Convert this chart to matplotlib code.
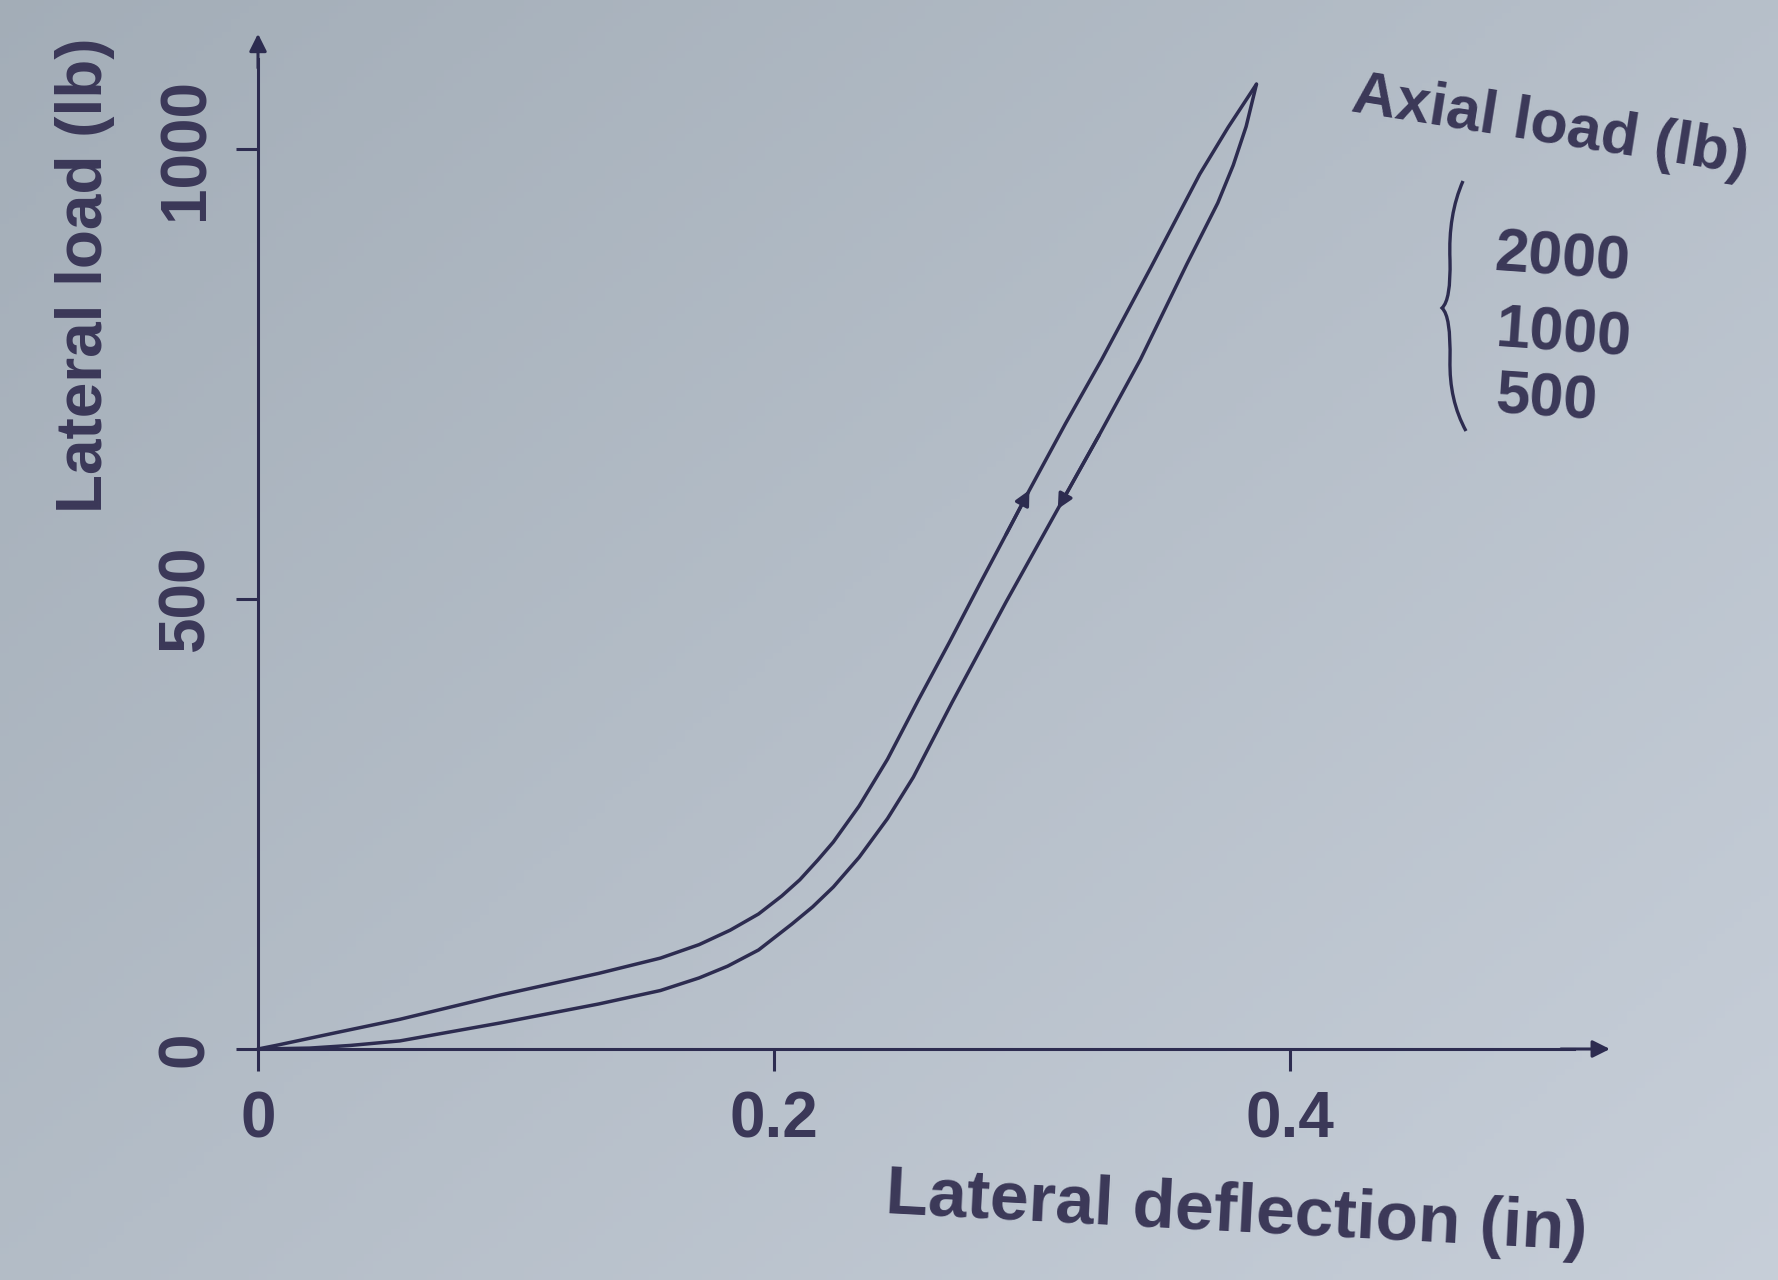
import numpy as np
import matplotlib.pyplot as plt
from matplotlib.path import Path
from matplotlib.patches import PathPatch

# Courbe de chargement (branche supérieure) : déflexion (in), charge latérale (lb)
load_x = [0.000, 0.007, 0.030, 0.055, 0.094, 0.132, 0.156, 0.171, 0.183, 0.194,
          0.203, 0.210, 0.217, 0.223, 0.233, 0.244, 0.256, 0.268, 0.280, 0.290,
          0.299, 0.313, 0.327, 0.346, 0.365, 0.376, 0.387]
load_y = [0, 4, 18, 33, 60, 84, 101, 116, 132, 150,
          170, 188, 210, 230, 270, 322, 388, 452, 518, 572,
          621, 695, 766, 868, 972, 1024, 1072]

# Courbe de déchargement (branche inférieure)
unload_x = [0.000, 0.020, 0.036, 0.055, 0.094, 0.132, 0.156, 0.171, 0.182, 0.194,
            0.207, 0.215, 0.223, 0.233, 0.244, 0.254, 0.269, 0.290, 0.310, 0.326,
            0.342, 0.360, 0.372, 0.378, 0.383, 0.387]
unload_y = [0, 1, 4, 9, 29, 50, 65, 79, 92, 110,
            139, 158, 180, 213, 256, 302, 385, 497, 600, 682,
            766, 872, 940, 982, 1025, 1072]

x_ticks = [0, 0.2, 0.4]
x_tick_labels = ["0", "0.2", "0.4"]
y_ticks = [0, 500, 1000]
y_tick_labels = ["0", "500", "1000"]
axial_loads = ["2000", "1000", "500"]

ink = "#2d2c50"
txt = "#3b3858"
plt.rcParams['font.family'] = ['Liberation Sans', 'DejaVu Sans']
plt.rcParams['font.weight'] = 'bold'

W, H = 1778, 1280
fig = plt.figure(figsize=(W / 100, H / 100), dpi=100)

# fond photo (léger dégradé gris-bleu)
bg = fig.add_axes([0, 0, 1, 1], zorder=-10)
gx, gy = np.meshgrid(np.linspace(0, 1, 200), np.linspace(0, 1, 200))
g = 0.55 * gx + 0.45 * gy
c1 = np.array([0.64, 0.68, 0.72])
c2 = np.array([0.78, 0.81, 0.85])
img = c1[None, None, :] * (1 - g[..., None]) + c2[None, None, :] * g[..., None]
bg.imshow(img, extent=[0, 1, 0, 1], aspect='auto', origin='upper')
bg.axis('off')

# placement des axes : origine en pixels et échelles
x0px, y0px = 258, 1049
px_in, px_lb = 2580, 0.90
xlim = (-0.012, 0.53)
ylim = (-35, 1135)
left = x0px + xlim[0] * px_in
right = x0px + xlim[1] * px_in
bottom = y0px - ylim[0] * px_lb
top = y0px - ylim[1] * px_lb
ax = fig.add_axes([left / W, 1 - bottom / H, (right - left) / W, (bottom - top) / H])
ax.patch.set_alpha(0)
ax.set_xlim(*xlim)
ax.set_ylim(*ylim)

# axes avec flèches
for s in ['top', 'right']:
    ax.spines[s].set_visible(False)
for s in ['left', 'bottom']:
    ax.spines[s].set_position(('data', 0))
    ax.spines[s].set_color(ink)
    ax.spines[s].set_linewidth(2.2)
ax.spines['left'].set_bounds(0, 1100)
ax.spines['bottom'].set_bounds(0, 0.51)
arrow = dict(arrowstyle='-|>', color=ink, lw=2.2, mutation_scale=26, shrinkA=0, shrinkB=0)
ax.annotate('', xy=(0, 1128), xytext=(0, 1090), arrowprops=arrow)
ax.annotate('', xy=(0.524, 0), xytext=(0.505, 0), arrowprops=arrow)

ax.set_xticks(x_ticks)
ax.set_xticklabels(x_tick_labels)
ax.set_yticks(y_ticks)
ax.set_yticklabels(y_tick_labels, rotation=90, va='center')
ax.tick_params(direction='out', length=16, width=2.2, color=ink,
               labelsize=46, labelcolor=txt, pad=14)

# courbes
ax.plot(load_x, load_y, color=ink, lw=2.5, solid_capstyle='round', solid_joinstyle='round')
ax.plot(unload_x, unload_y, color=ink, lw=2.5, solid_capstyle='round', solid_joinstyle='round')

# petites flèches sur les branches
head = dict(arrowstyle='-|>', color=ink, lw=2.4, mutation_scale=22, shrinkA=0, shrinkB=0)
i = load_x.index(0.299)
ax.annotate('', xy=(load_x[i], load_y[i]), xytext=(load_x[i - 1], load_y[i - 1]), arrowprops=head)
j = unload_x.index(0.310)
ax.annotate('', xy=(unload_x[j], unload_y[j]), xytext=(unload_x[j + 1], unload_y[j + 1]), arrowprops=head)

# libellés
fig.text(85 / W, 1 - 275 / H, "Lateral load (lb)", rotation=90, ha='center', va='center',
         fontsize=46, color=txt)
fig.text(1236 / W, 1 - 1213 / H, "Lateral deflection (in)", rotation=-3, ha='center', va='center',
         fontsize=50, color=txt, rotation_mode='anchor')
fig.text(1550 / W, 1 - 127 / H, "Axial load (lb)", rotation=-9, ha='center', va='center',
         fontsize=44, color=txt, rotation_mode='anchor')
for lab, yc in zip(axial_loads, [255, 331, 397]):
    fig.text(1495 / W, 1 - yc / H, lab, rotation=-4, ha='left', va='center',
             fontsize=44, color=txt, rotation_mode='anchor')

# accolade
pts = [(1463, 181), (1448, 215), (1450, 260), (1451, 300), (1442, 308),
       (1451, 316), (1450, 360), (1449, 400), (1466, 431)]
codes = [Path.MOVETO, Path.CURVE3, Path.CURVE3, Path.CURVE3, Path.CURVE3,
         Path.CURVE3, Path.CURVE3, Path.CURVE3, Path.CURVE3]
verts = [(px / W, 1 - py / H) for px, py in pts]
fig.patches.append(PathPatch(Path(verts, codes), transform=fig.transFigure,
                             fill=False, edgecolor=ink, lw=2.4))

fig.savefig("out.png", dpi=100)
